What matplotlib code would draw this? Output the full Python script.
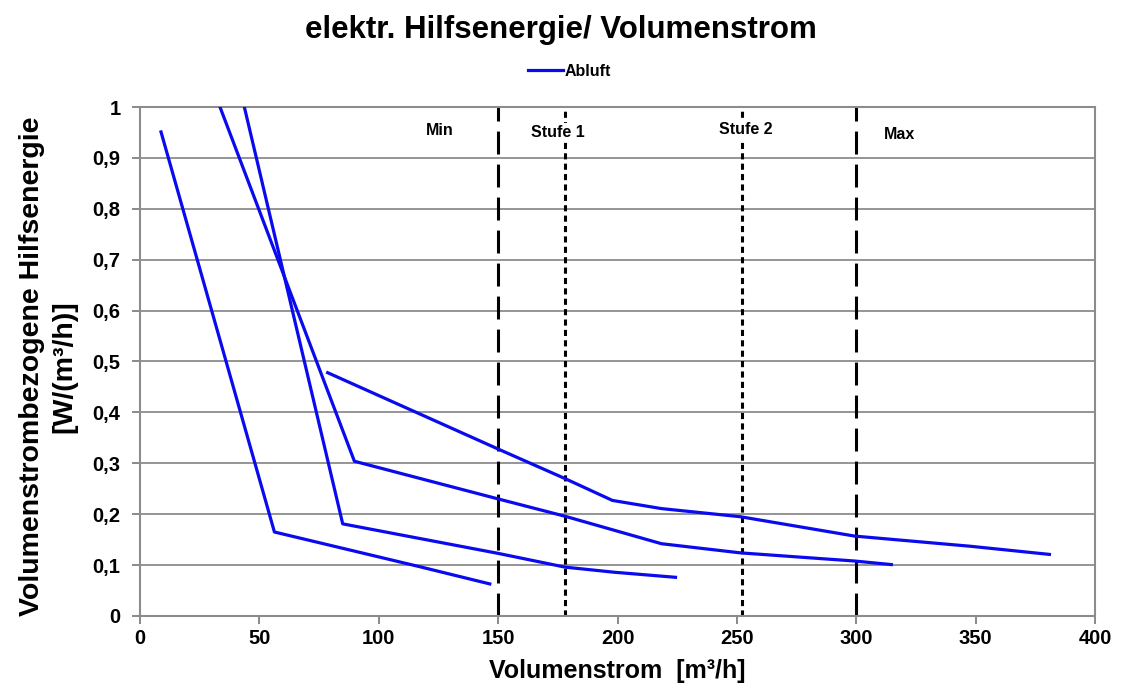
import matplotlib
matplotlib.use("Agg")
import matplotlib.pyplot as plt
import numpy as np

plt.rcParams['font.family'] = ['Liberation Sans', 'DejaVu Sans']
plt.rcParams['font.weight'] = 'bold'

# Messreihen Abluft (Volumenstrom [m3/h], Hilfsenergie [W/(m3/h)])
x1 = [8.8, 56.3, 117, 146.5]
y1 = [0.951, 0.165, 0.097, 0.063]

x2 = [43.7, 84.9, 150, 178, 198.5, 224.3]
y2 = [1.0, 0.181, 0.123, 0.096, 0.086, 0.076]

x3 = [33.5, 89.8, 150, 178, 218.4, 251.5, 299.3, 314.7]
y3 = [1.0, 0.304, 0.230, 0.196, 0.142, 0.124, 0.108, 0.101]

x4 = [78.6, 150, 178, 197.9, 218.4, 251.5, 299.3, 347.8, 380.9]
y4 = [0.478, 0.328, 0.270, 0.227, 0.211, 0.195, 0.157, 0.137, 0.121]

# Betriebsstufen
stufen_x = [150, 178, 252, 300]
stufen_namen = ["Min", "Stufe 1", "Stufe 2", "Max"]
label_x = [125.7, 175.2, 253.7, 318.3]
label_y = [0.953, 0.950, 0.955, 0.946]

fig = plt.figure(figsize=(11.21, 6.98), dpi=100)
ax = fig.add_axes([0.1249, 0.1175, 0.9768 - 0.1249, 0.8467 - 0.1175])

blau = '#0a0aee'
ax.plot(x1, y1, color=blau, lw=2.3, label='Abluft', zorder=3)
for xs, ys in [(x2, y2), (x3, y3), (x4, y4)]:
    ax.plot(xs, ys, color=blau, lw=2.3, zorder=3)

lang = (7.5, 3.3)
kurz = (2.0, 1.4)
stile = [lang, kurz, kurz, lang]
for sx, d in zip(stufen_x, stile):
    ax.axvline(sx, color='black', lw=2.2, dashes=d, zorder=2)

for tx, ty, name in zip(label_x, label_y, stufen_namen):
    ax.text(tx, ty, name, ha='center', va='center', fontsize=11.5, fontweight='bold',
            bbox=dict(facecolor='white', edgecolor='none', pad=1.5), zorder=4)

ax.set_xlim(0, 400)
ax.set_ylim(0, 1)
ax.set_xticks(np.arange(0, 401, 50))
ax.set_yticks(np.arange(0, 1.01, 0.1))
ax.set_yticklabels(['0'] + [f"0,{i}" for i in range(1, 10)] + ['1'])
ax.tick_params(axis='both', labelsize=14.5, color='#808080', length=6, width=1.3)
ax.tick_params(axis='y', pad=8)
for lab in ax.get_xticklabels() + ax.get_yticklabels():
    lab.set_fontweight('bold')

ax.yaxis.grid(True, color='#8c8c8c', lw=1.3)
ax.set_axisbelow(True)
for sp in ax.spines.values():
    sp.set_color('#8c8c8c')
    sp.set_linewidth(1.5)

ax.set_xlabel("Volumenstrom  [m³/h]", fontsize=18, fontweight='bold', labelpad=8)
ax.set_ylabel("Volumenstrombezogene Hilfsenergie\n[W/(m³/h)]", fontsize=20.5,
              fontweight='bold', linespacing=1.3)
ax.yaxis.set_label_coords(-0.066, 0.49)

fig.suptitle("elektr. Hilfsenergie/ Volumenstrom", fontsize=22.5, fontweight='bold',
             y=0.978)
leg = fig.legend(loc='center', bbox_to_anchor=(0.508, 0.898), frameon=False,
                 fontsize=11.5, handlelength=2.2, handletextpad=0.1)
for t in leg.get_texts():
    t.set_fontweight('bold')

fig.savefig("out.png", dpi=100)
